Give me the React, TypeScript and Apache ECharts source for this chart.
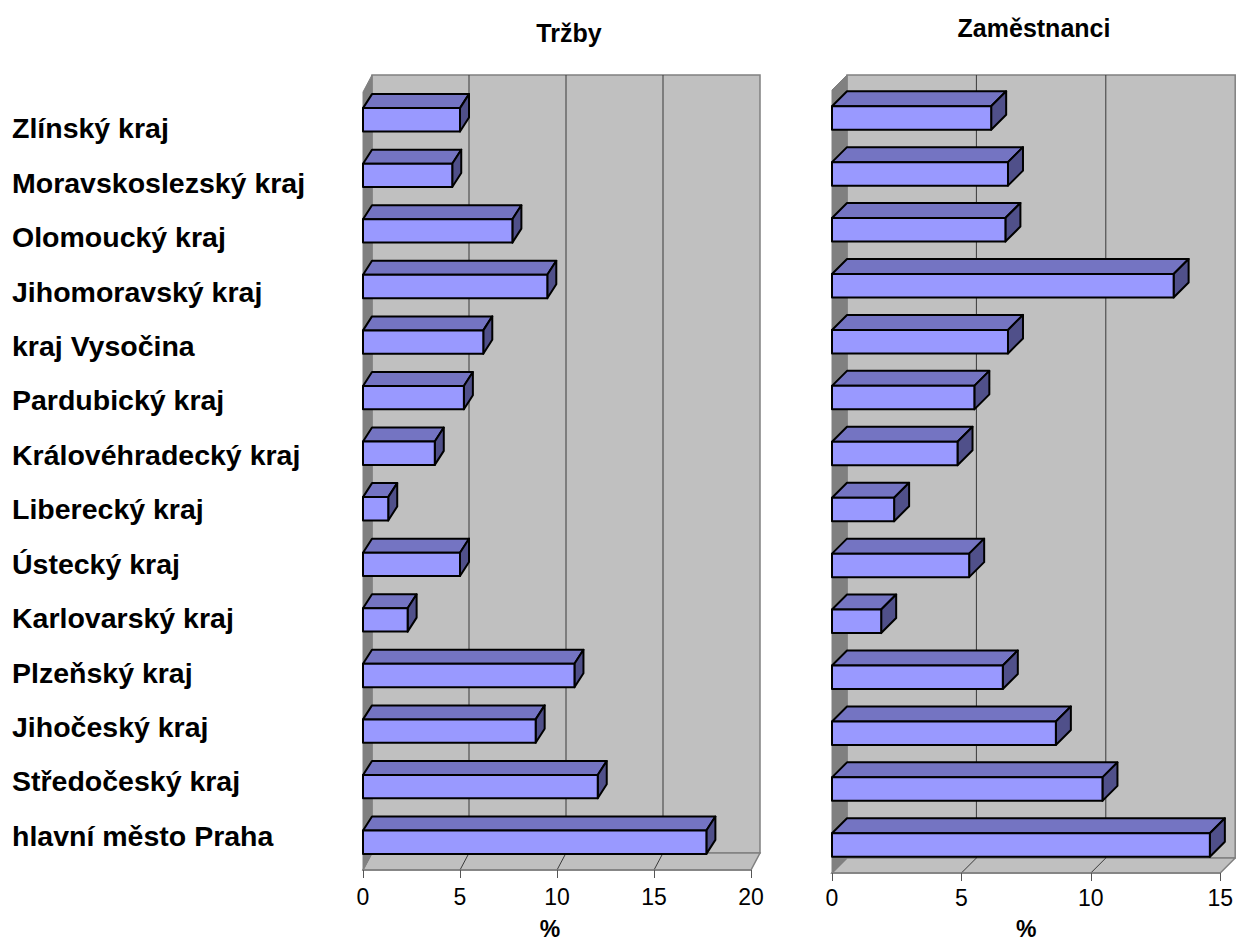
import React, { useEffect, useRef } from "react";
import * as echarts from "echarts";

const categories: string[] = [
  "Zlínský kraj",
  "Moravskoslezský kraj",
  "Olomoucký kraj",
  "Jihomoravský kraj",
  "kraj Vysočina",
  "Pardubický kraj",
  "Královéhradecký kraj",
  "Liberecký kraj",
  "Ústecký kraj",
  "Karlovarský kraj",
  "Plzeňský kraj",
  "Jihočeský kraj",
  "Středočeský kraj",
  "hlavní město Praha",
];

const trzby: number[] = [5.0, 4.6, 7.7, 9.5, 6.2, 5.2, 3.7, 1.3, 5.0, 2.3, 10.9, 8.9, 12.1, 17.7];
const zamestnanci: number[] = [6.15, 6.8, 6.7, 13.2, 6.8, 5.5, 4.85, 2.4, 5.3, 1.9, 6.6, 8.65, 10.45, 14.6];

const ticksLeft: number[] = [0, 5, 10, 15, 20];
const ticksRight: number[] = [0, 5, 10, 15];

const titleLeft = "Tržby";
const titleRight = "Zaměstnanci";
const axisName = "%";

const FONT = "'Liberation Sans', Arial, Helvetica, sans-serif";

function wallsRenderer(ticks: number[], dx: number, dy: number) {
  return (params: any, api: any) => {
    const cs = params.coordSys;
    const x0 = cs.x;
    const x1 = cs.x + cs.width;
    const yT = cs.y;
    const yB = cs.y + cs.height;
    const children: any[] = [];
    children.push({
      type: "rect",
      shape: { x: x0 + dx, y: yT - dy, width: cs.width, height: cs.height },
      style: { fill: "#C0C0C0", stroke: "#808080", lineWidth: 1.5 },
    });
    children.push({
      type: "polygon",
      shape: { points: [[x0, yB], [x1, yB], [x1 + dx, yB - dy], [x0 + dx, yB - dy]] },
      style: { fill: "#C0C0C0", stroke: "#808080", lineWidth: 1.5 },
    });
    children.push({
      type: "polygon",
      shape: { points: [[x0, yT], [x0 + dx, yT - dy], [x0 + dx, yB - dy], [x0, yB]] },
      style: { fill: "#808080", stroke: "#808080", lineWidth: 1 },
    });
    for (let i = 1; i < ticks.length - 1; i++) {
      const x = api.coord([ticks[i], 0])[0];
      children.push({
        type: "line",
        shape: { x1: x + dx, y1: yT - dy, x2: x + dx, y2: yB - dy },
        style: { stroke: "#3a3a3a", lineWidth: 1 },
      });
      children.push({
        type: "line",
        shape: { x1: x, y1: yB, x2: x + dx, y2: yB - dy },
        style: { stroke: "#3a3a3a", lineWidth: 1 },
      });
    }
    return { type: "group", children };
  };
}

function barsRenderer(dx: number, dy: number) {
  return (params: any, api: any) => {
    const v = api.value(0);
    const c = api.value(1);
    const p0 = api.coord([0, c]);
    const p1 = api.coord([v, c]);
    const band = api.size([0, 1])[1];
    const h = band * 0.42;
    const xa = p0[0];
    const xb = p1[0];
    const yTop = p0[1] - h / 2;
    const yBot = p0[1] + h / 2;
    const edge = { stroke: "#000000", lineWidth: 2, lineJoin: "round" };
    return {
      type: "group",
      children: [
        {
          type: "polygon",
          shape: { points: [[xa, yTop], [xb, yTop], [xb + dx, yTop - dy], [xa + dx, yTop - dy]] },
          style: { fill: "#7474C2", ...edge },
        },
        {
          type: "polygon",
          shape: { points: [[xb, yTop], [xb + dx, yTop - dy], [xb + dx, yBot - dy], [xb, yBot]] },
          style: { fill: "#50508A", ...edge },
        },
        {
          type: "rect",
          shape: { x: xa, y: yTop, width: xb - xa, height: h },
          style: { fill: "#9999FF", ...edge },
        },
      ],
    };
  };
}

export default function App() {
  const ref = useRef<HTMLDivElement>(null);

  useEffect(() => {
    if (!ref.current) return;
    const chart = echarts.init(ref.current, undefined, { renderer: "svg" });

    const xAxisCommon = (gridIndex: number, max: number, margin: number, nameGap: number, namePad: number[]) => ({
      type: "value",
      gridIndex,
      min: 0,
      max,
      interval: 5,
      z: 10,
      splitLine: { show: false },
      axisLine: { show: true, lineStyle: { color: "#808080", width: 1.5 } },
      axisTick: { show: true, length: 8, lineStyle: { color: "#555555", width: 1 } },
      axisLabel: { fontSize: 23, color: "#000000", fontFamily: FONT, margin },
      name: axisName,
      nameLocation: "middle",
      nameGap,
      nameTextStyle: { fontSize: 23, fontWeight: "bold", color: "#000000", fontFamily: FONT, padding: namePad },
    });

    const option: any = {
      animation: false,
      backgroundColor: "#ffffff",
      title: [
        {
          text: titleLeft,
          left: 564,
          top: 15,
          textAlign: "center",
          textStyle: { fontSize: 25, fontWeight: "bold", color: "#000000", fontFamily: FONT },
        },
        {
          text: titleRight,
          left: 1029,
          top: 10,
          textAlign: "center",
          textStyle: { fontSize: 25, fontWeight: "bold", color: "#000000", fontFamily: FONT },
        },
      ],
      grid: [
        { left: 363, top: 92, width: 388, height: 783 },
        { left: 832, top: 90, width: 390, height: 787 },
        { left: 20, top: 101, width: 10, height: 762 },
      ],
      xAxis: [
        xAxisCommon(0, 20, 15, 47, [0, 14, 0, 0]),
        xAxisCommon(1, 15, 13, 44, [0, 0, 0, 0]),
        { type: "value", gridIndex: 2, show: false, min: 0, max: 1 },
      ],
      yAxis: [
        { type: "category", gridIndex: 0, data: categories, inverse: true, show: false },
        { type: "category", gridIndex: 1, data: categories, inverse: true, show: false },
        {
          type: "category",
          gridIndex: 2,
          data: categories,
          inverse: true,
          axisLine: { show: false },
          axisTick: { show: false },
          splitLine: { show: false },
          axisLabel: {
            align: "left",
            margin: 8,
            fontSize: 28.5,
            fontWeight: "bold",
            color: "#000000",
            fontFamily: FONT,
          },
        },
      ],
      series: [
        {
          type: "custom",
          xAxisIndex: 0,
          yAxisIndex: 0,
          z: 1,
          silent: true,
          renderItem: wallsRenderer(ticksLeft, 9, 17),
          data: [[0, 0]],
        },
        {
          type: "custom",
          xAxisIndex: 1,
          yAxisIndex: 1,
          z: 1,
          silent: true,
          renderItem: wallsRenderer(ticksRight, 15, 15),
          data: [[0, 0]],
        },
        {
          type: "custom",
          name: titleLeft,
          xAxisIndex: 0,
          yAxisIndex: 0,
          z: 3,
          renderItem: barsRenderer(9, 14),
          encode: { x: 0, y: 1 },
          data: trzby.map((v, i) => [v, i]),
        },
        {
          type: "custom",
          name: titleRight,
          xAxisIndex: 1,
          yAxisIndex: 1,
          z: 3,
          renderItem: barsRenderer(15, 15),
          encode: { x: 0, y: 1 },
          data: zamestnanci.map((v, i) => [v, i]),
        },
      ],
    };

    chart.setOption(option);
    return () => chart.dispose();
  }, []);

  return (
    <div
      ref={ref}
      style={{ position: "fixed", left: 0, top: 0, width: 1236, height: 945, background: "#ffffff" }}
    />
  );
}
